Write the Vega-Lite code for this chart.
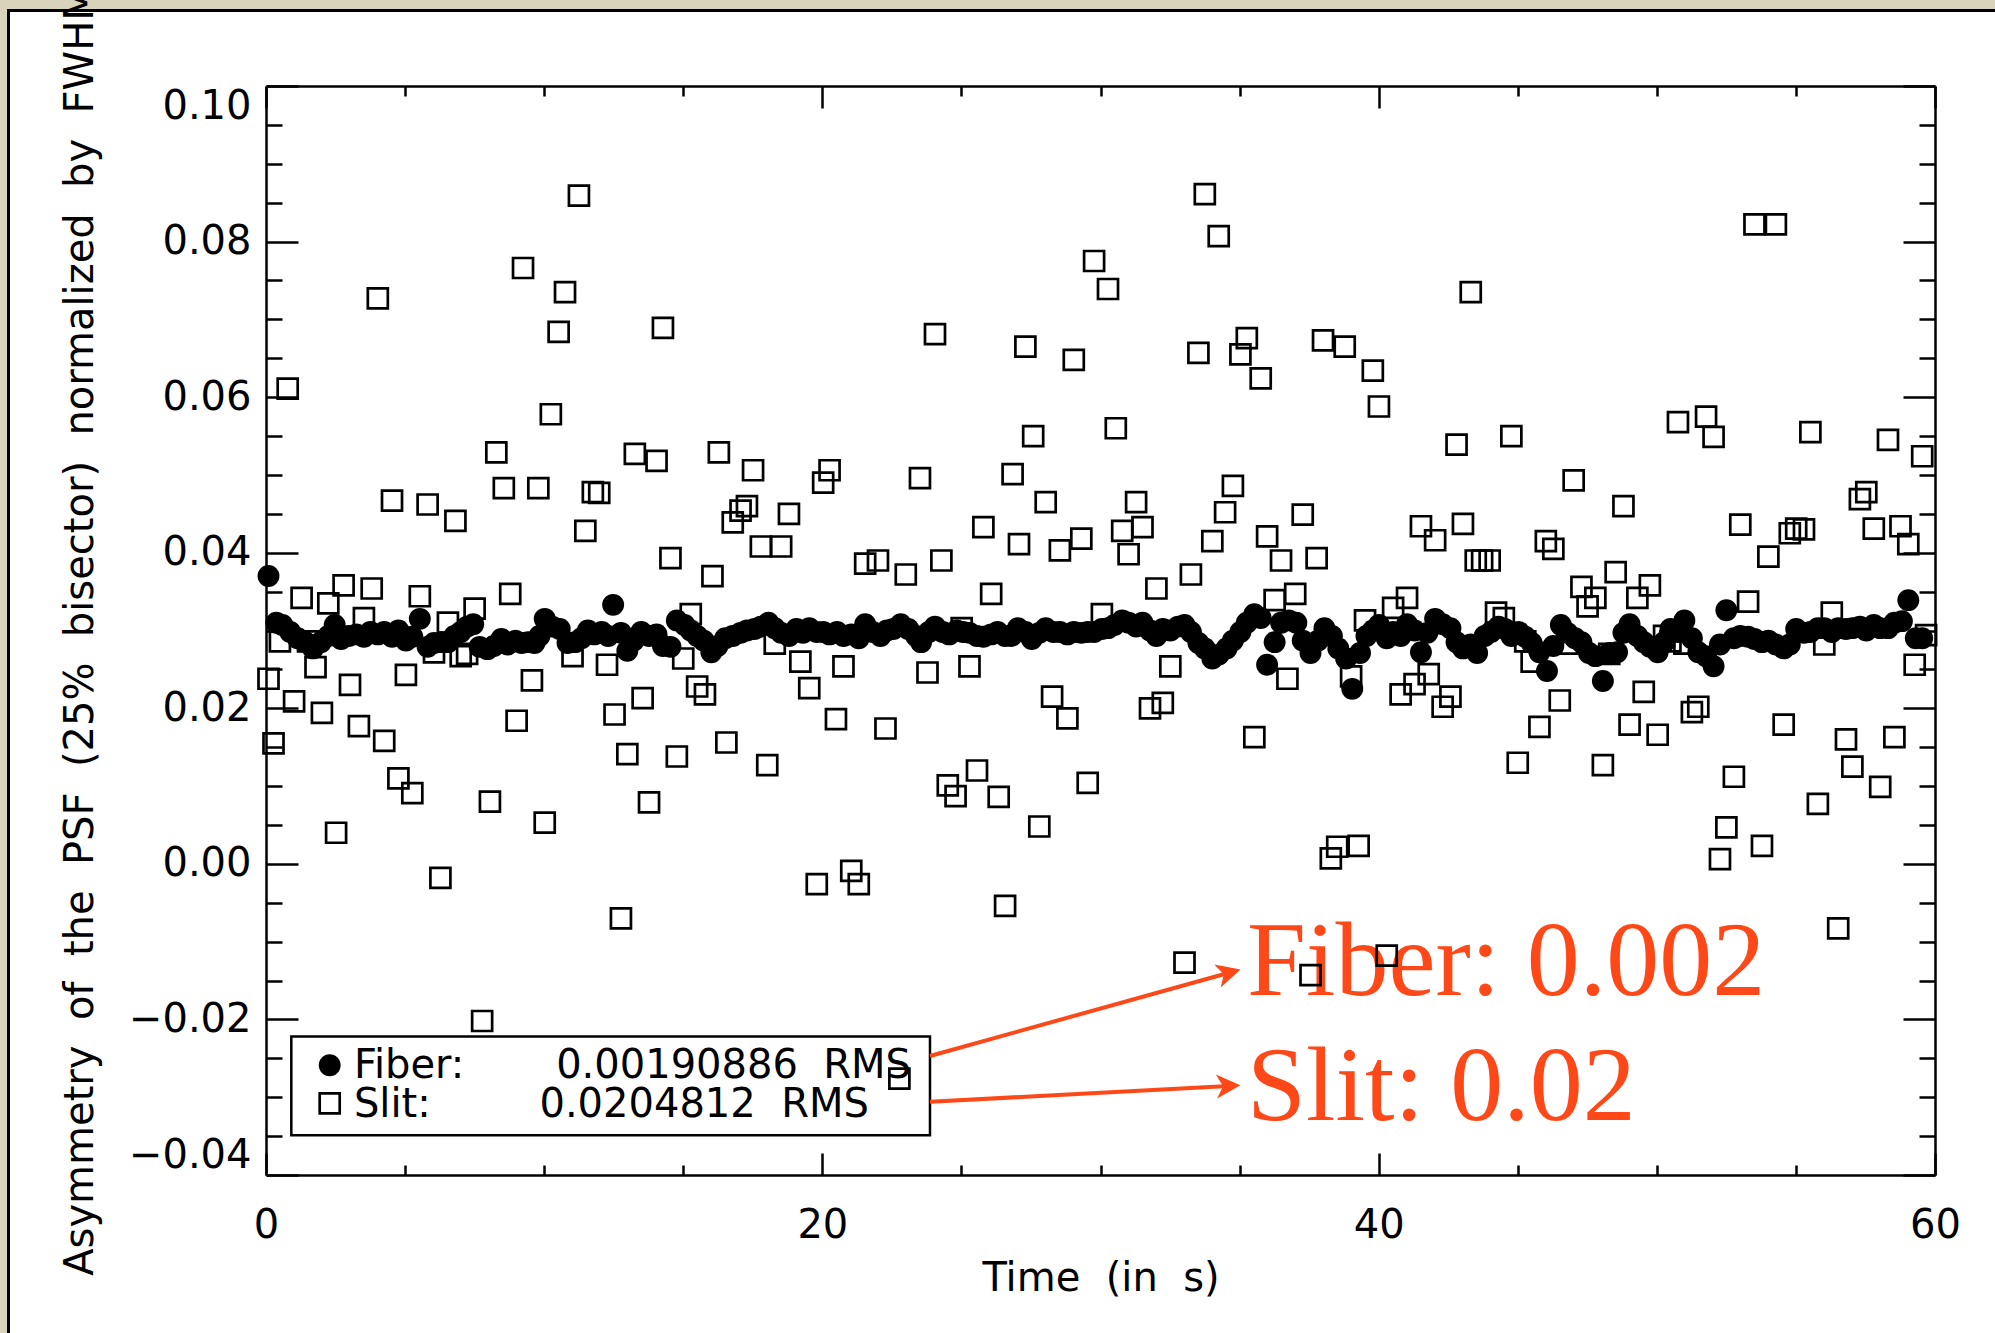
{
"$schema": "https://vega.github.io/schema/vega-lite/v6.json",
"width": 1669, "height": 1089,
"autosize": {"type": "none"},
"padding": {"left": 266, "top": 86, "right": 60, "bottom": 158},
"background": "#d7d4bb",
"config": {"view": {"stroke": null}, "font": "DejaVu Sans"},
"datasets": {
"fiber": [
{"t":0.09,"a":0.0370},{"t":0.37,"a":0.0310},{"t":0.59,"a":0.0307},{"t":0.87,"a":0.0298},{"t":1.14,"a":0.0290},{"t":1.42,"a":0.0285},{"t":1.69,"a":0.0277},{"t":1.97,"a":0.0285},{"t":2.24,"a":0.0293},{"t":2.47,"a":0.0307},{"t":2.70,"a":0.0289},{"t":2.97,"a":0.0293},{"t":3.25,"a":0.0295},{"t":3.52,"a":0.0292},{"t":3.75,"a":0.0298},{"t":4.02,"a":0.0295},{"t":4.25,"a":0.0298},{"t":4.53,"a":0.0292},{"t":4.76,"a":0.0300},{"t":5.03,"a":0.0287},{"t":5.26,"a":0.0292},{"t":5.53,"a":0.0315},{"t":5.81,"a":0.0279},{"t":6.04,"a":0.0284},{"t":6.31,"a":0.0285},{"t":6.54,"a":0.0285},{"t":6.77,"a":0.0293},{"t":7.00,"a":0.0298},{"t":7.23,"a":0.0305},{"t":7.45,"a":0.0308},{"t":7.68,"a":0.0279},{"t":7.96,"a":0.0276},{"t":8.19,"a":0.0280},{"t":8.46,"a":0.0289},{"t":8.69,"a":0.0282},{"t":8.96,"a":0.0287},{"t":9.19,"a":0.0284},{"t":9.42,"a":0.0285},{"t":9.65,"a":0.0284},{"t":9.83,"a":0.0293},{"t":10.02,"a":0.0315},{"t":10.29,"a":0.0305},{"t":10.56,"a":0.0302},{"t":10.84,"a":0.0284},{"t":11.11,"a":0.0285},{"t":11.34,"a":0.0290},{"t":11.57,"a":0.0300},{"t":11.80,"a":0.0295},{"t":12.07,"a":0.0298},{"t":12.30,"a":0.0293},{"t":12.48,"a":0.0333},{"t":12.76,"a":0.0297},{"t":12.99,"a":0.0274},{"t":13.22,"a":0.0287},{"t":13.49,"a":0.0298},{"t":13.77,"a":0.0293},{"t":14.04,"a":0.0295},{"t":14.27,"a":0.0280},{"t":14.54,"a":0.0279},{"t":14.77,"a":0.0313},{"t":15.05,"a":0.0307},{"t":15.27,"a":0.0300},{"t":15.50,"a":0.0293},{"t":15.73,"a":0.0287},{"t":16.01,"a":0.0272},{"t":16.23,"a":0.0280},{"t":16.51,"a":0.0290},{"t":16.78,"a":0.0293},{"t":17.06,"a":0.0297},{"t":17.29,"a":0.0300},{"t":17.56,"a":0.0302},{"t":17.79,"a":0.0305},{"t":18.06,"a":0.0310},{"t":18.29,"a":0.0303},{"t":18.52,"a":0.0297},{"t":18.80,"a":0.0293},{"t":19.07,"a":0.0302},{"t":19.30,"a":0.0297},{"t":19.53,"a":0.0303},{"t":19.80,"a":0.0298},{"t":20.03,"a":0.0298},{"t":20.26,"a":0.0295},{"t":20.53,"a":0.0298},{"t":20.76,"a":0.0293},{"t":21.04,"a":0.0295},{"t":21.31,"a":0.0290},{"t":21.54,"a":0.0308},{"t":21.81,"a":0.0298},{"t":22.09,"a":0.0293},{"t":22.32,"a":0.0300},{"t":22.55,"a":0.0302},{"t":22.82,"a":0.0308},{"t":23.09,"a":0.0302},{"t":23.37,"a":0.0293},{"t":23.55,"a":0.0285},{"t":23.83,"a":0.0298},{"t":24.05,"a":0.0305},{"t":24.33,"a":0.0298},{"t":24.56,"a":0.0295},{"t":24.83,"a":0.0300},{"t":25.06,"a":0.0298},{"t":25.29,"a":0.0297},{"t":25.56,"a":0.0293},{"t":25.79,"a":0.0292},{"t":26.07,"a":0.0295},{"t":26.30,"a":0.0298},{"t":26.57,"a":0.0293},{"t":26.80,"a":0.0293},{"t":27.03,"a":0.0303},{"t":27.30,"a":0.0298},{"t":27.53,"a":0.0289},{"t":27.80,"a":0.0297},{"t":28.03,"a":0.0303},{"t":28.31,"a":0.0298},{"t":28.54,"a":0.0298},{"t":28.81,"a":0.0295},{"t":29.04,"a":0.0298},{"t":29.31,"a":0.0297},{"t":29.54,"a":0.0298},{"t":29.77,"a":0.0298},{"t":30.05,"a":0.0302},{"t":30.27,"a":0.0303},{"t":30.50,"a":0.0307},{"t":30.78,"a":0.0313},{"t":31.01,"a":0.0310},{"t":31.28,"a":0.0305},{"t":31.51,"a":0.0310},{"t":31.78,"a":0.0300},{"t":32.01,"a":0.0293},{"t":32.24,"a":0.0302},{"t":32.51,"a":0.0300},{"t":32.79,"a":0.0305},{"t":33.02,"a":0.0307},{"t":33.25,"a":0.0298},{"t":33.52,"a":0.0284},{"t":33.75,"a":0.0277},{"t":34.02,"a":0.0264},{"t":34.25,"a":0.0269},{"t":34.53,"a":0.0277},{"t":34.76,"a":0.0287},{"t":35.03,"a":0.0298},{"t":35.26,"a":0.0310},{"t":35.53,"a":0.0321},{"t":35.76,"a":0.0316},{"t":35.99,"a":0.0256},{"t":36.26,"a":0.0285},{"t":36.49,"a":0.0310},{"t":36.77,"a":0.0313},{"t":37.04,"a":0.0310},{"t":37.27,"a":0.0287},{"t":37.55,"a":0.0271},{"t":37.82,"a":0.0287},{"t":38.05,"a":0.0303},{"t":38.32,"a":0.0293},{"t":38.55,"a":0.0277},{"t":38.83,"a":0.0264},{"t":39.05,"a":0.0225},{"t":39.33,"a":0.0271},{"t":39.56,"a":0.0293},{"t":39.79,"a":0.0300},{"t":40.01,"a":0.0307},{"t":40.29,"a":0.0290},{"t":40.52,"a":0.0298},{"t":40.79,"a":0.0293},{"t":41.02,"a":0.0308},{"t":41.29,"a":0.0300},{"t":41.52,"a":0.0272},{"t":41.75,"a":0.0297},{"t":42.03,"a":0.0315},{"t":42.30,"a":0.0308},{"t":42.58,"a":0.0303},{"t":42.80,"a":0.0285},{"t":43.03,"a":0.0277},{"t":43.31,"a":0.0282},{"t":43.54,"a":0.0271},{"t":43.81,"a":0.0293},{"t":44.04,"a":0.0298},{"t":44.31,"a":0.0305},{"t":44.54,"a":0.0302},{"t":44.77,"a":0.0293},{"t":45.04,"a":0.0298},{"t":45.27,"a":0.0292},{"t":45.50,"a":0.0284},{"t":45.78,"a":0.0272},{"t":46.05,"a":0.0248},{"t":46.28,"a":0.0280},{"t":46.55,"a":0.0307},{"t":46.78,"a":0.0297},{"t":47.06,"a":0.0290},{"t":47.29,"a":0.0285},{"t":47.56,"a":0.0271},{"t":47.79,"a":0.0267},{"t":48.06,"a":0.0235},{"t":48.29,"a":0.0271},{"t":48.57,"a":0.0272},{"t":48.80,"a":0.0297},{"t":49.02,"a":0.0308},{"t":49.30,"a":0.0293},{"t":49.53,"a":0.0285},{"t":49.75,"a":0.0279},{"t":50.03,"a":0.0272},{"t":50.26,"a":0.0285},{"t":50.49,"a":0.0302},{"t":50.76,"a":0.0298},{"t":50.99,"a":0.0313},{"t":51.26,"a":0.0290},{"t":51.49,"a":0.0272},{"t":51.77,"a":0.0267},{"t":52.04,"a":0.0254},{"t":52.27,"a":0.0282},{"t":52.50,"a":0.0326},{"t":52.77,"a":0.0290},{"t":53.00,"a":0.0293},{"t":53.28,"a":0.0292},{"t":53.51,"a":0.0289},{"t":53.78,"a":0.0285},{"t":54.01,"a":0.0287},{"t":54.28,"a":0.0282},{"t":54.56,"a":0.0277},{"t":54.78,"a":0.0282},{"t":55.01,"a":0.0302},{"t":55.29,"a":0.0297},{"t":55.52,"a":0.0298},{"t":55.79,"a":0.0303},{"t":56.02,"a":0.0303},{"t":56.29,"a":0.0298},{"t":56.52,"a":0.0303},{"t":56.80,"a":0.0302},{"t":57.03,"a":0.0303},{"t":57.30,"a":0.0305},{"t":57.53,"a":0.0300},{"t":57.80,"a":0.0307},{"t":58.03,"a":0.0303},{"t":58.31,"a":0.0303},{"t":58.54,"a":0.0310},{"t":58.81,"a":0.0312},{"t":59.04,"a":0.0339},{"t":59.31,"a":0.0290},{"t":59.54,"a":0.0290}
],
"slit": [
{"t":0.09,"a":0.0238},{"t":0.27,"a":0.0155},{"t":0.50,"a":0.0286},{"t":0.78,"a":0.0611},{"t":1.01,"a":0.0209},{"t":1.28,"a":0.0342},{"t":1.51,"a":0.0286},{"t":1.78,"a":0.0253},{"t":2.01,"a":0.0194},{"t":2.24,"a":0.0335},{"t":2.52,"a":0.0040},{"t":2.79,"a":0.0358},{"t":3.02,"a":0.0230},{"t":3.34,"a":0.0177},{"t":3.52,"a":0.0316},{"t":3.80,"a":0.0354},{"t":4.02,"a":0.0727},{"t":4.25,"a":0.0158},{"t":4.53,"a":0.0467},{"t":4.76,"a":0.0110},{"t":5.03,"a":0.0243},{"t":5.26,"a":0.0091},{"t":5.53,"a":0.0344},{"t":5.81,"a":0.0462},{"t":6.04,"a":0.0272},{"t":6.27,"a":-0.0018},{"t":6.54,"a":0.0310},{"t":6.81,"a":0.0441},{"t":7.00,"a":0.0267},{"t":7.23,"a":0.0270},{"t":7.50,"a":0.0328},{"t":7.77,"a":-0.0202},{"t":8.05,"a":0.0080},{"t":8.28,"a":0.0529},{"t":8.55,"a":0.0483},{"t":8.78,"a":0.0347},{"t":9.01,"a":0.0184},{"t":9.24,"a":0.0766},{"t":9.56,"a":0.0236},{"t":9.79,"a":0.0483},{"t":10.02,"a":0.0053},{"t":10.24,"a":0.0578},{"t":10.52,"a":0.0684},{"t":10.75,"a":0.0735},{"t":11.02,"a":0.0267},{"t":11.25,"a":0.0859},{"t":11.48,"a":0.0428},{"t":11.75,"a":0.0478},{"t":11.98,"a":0.0477},{"t":12.26,"a":0.0256},{"t":12.53,"a":0.0192},{"t":12.76,"a":-0.0070},{"t":12.99,"a":0.0141},{"t":13.26,"a":0.0527},{"t":13.54,"a":0.0213},{"t":13.77,"a":0.0079},{"t":14.04,"a":0.0518},{"t":14.27,"a":0.0689},{"t":14.54,"a":0.0393},{"t":14.77,"a":0.0138},{"t":15.00,"a":0.0264},{"t":15.27,"a":0.0321},{"t":15.50,"a":0.0228},{"t":15.78,"a":0.0218},{"t":16.05,"a":0.0370},{"t":16.28,"a":0.0529},{"t":16.55,"a":0.0156},{"t":16.78,"a":0.0439},{"t":17.06,"a":0.0454},{"t":17.29,"a":0.0460},{"t":17.51,"a":0.0506},{"t":17.79,"a":0.0408},{"t":18.02,"a":0.0127},{"t":18.29,"a":0.0283},{"t":18.52,"a":0.0408},{"t":18.80,"a":0.0450},{"t":19.21,"a":0.0260},{"t":19.53,"a":0.0226},{"t":19.80,"a":-0.0026},{"t":20.03,"a":0.0490},{"t":20.26,"a":0.0506},{"t":20.49,"a":0.0186},{"t":20.76,"a":0.0254},{"t":21.04,"a":-0.0009},{"t":21.31,"a":-0.0026},{"t":21.54,"a":0.0386},{"t":22.00,"a":0.0390},{"t":22.27,"a":0.0174},{"t":22.77,"a":-0.0276},{"t":23.00,"a":0.0372},{"t":23.51,"a":0.0496},{"t":23.78,"a":0.0246},{"t":24.05,"a":0.0681},{"t":24.28,"a":0.0390},{"t":24.51,"a":0.0101},{"t":24.79,"a":0.0087},{"t":25.01,"a":0.0303},{"t":25.29,"a":0.0254},{"t":25.56,"a":0.0120},{"t":25.79,"a":0.0433},{"t":26.07,"a":0.0347},{"t":26.34,"a":0.0086},{"t":26.57,"a":-0.0054},{"t":26.84,"a":0.0501},{"t":27.07,"a":0.0411},{"t":27.30,"a":0.0665},{"t":27.58,"a":0.0550},{"t":27.80,"a":0.0048},{"t":28.03,"a":0.0465},{"t":28.26,"a":0.0215},{"t":28.54,"a":0.0403},{"t":28.81,"a":0.0187},{"t":29.04,"a":0.0648},{"t":29.31,"a":0.0418},{"t":29.54,"a":0.0104},{"t":29.77,"a":0.0775},{"t":30.05,"a":0.0321},{"t":30.27,"a":0.0739},{"t":30.55,"a":0.0560},{"t":30.78,"a":0.0428},{"t":31.01,"a":0.0398},{"t":31.28,"a":0.0465},{"t":31.51,"a":0.0433},{"t":31.78,"a":0.0200},{"t":32.01,"a":0.0354},{"t":32.24,"a":0.0207},{"t":32.51,"a":0.0254},{"t":33.02,"a":-0.0127},{"t":33.25,"a":0.0372},{"t":33.52,"a":0.0657},{"t":33.75,"a":0.0861},{"t":34.02,"a":0.0415},{"t":34.25,"a":0.0807},{"t":34.48,"a":0.0452},{"t":34.76,"a":0.0486},{"t":35.03,"a":0.0655},{"t":35.26,"a":0.0676},{"t":35.53,"a":0.0163},{"t":35.76,"a":0.0624},{"t":35.99,"a":0.0421},{"t":36.26,"a":0.0339},{"t":36.49,"a":0.0390},{"t":36.72,"a":0.0238},{"t":37.00,"a":0.0347},{"t":37.27,"a":0.0449},{"t":37.55,"a":-0.0143},{"t":37.77,"a":0.0393},{"t":38.00,"a":0.0673},{"t":38.28,"a":0.0007},{"t":38.51,"a":0.0022},{"t":38.78,"a":0.0665},{"t":39.01,"a":0.0241},{"t":39.28,"a":0.0023},{"t":39.51,"a":0.0313},{"t":39.79,"a":0.0634},{"t":40.01,"a":0.0588},{"t":40.29,"a":-0.0118},{"t":40.52,"a":0.0329},{"t":40.79,"a":0.0218},{"t":41.02,"a":0.0342},{"t":41.29,"a":0.0231},{"t":41.52,"a":0.0434},{"t":41.80,"a":0.0244},{"t":42.03,"a":0.0416},{"t":42.30,"a":0.0202},{"t":42.58,"a":0.0215},{"t":42.80,"a":0.0539},{"t":43.03,"a":0.0437},{"t":43.31,"a":0.0735},{"t":43.49,"a":0.0390},{"t":43.72,"a":0.0390},{"t":43.99,"a":0.0390},{"t":44.22,"a":0.0323},{"t":44.50,"a":0.0316},{"t":44.77,"a":0.0550},{"t":45.00,"a":0.0130},{"t":45.27,"a":0.0286},{"t":45.50,"a":0.0260},{"t":45.78,"a":0.0176},{"t":46.01,"a":0.0415},{"t":46.28,"a":0.0405},{"t":46.51,"a":0.0210},{"t":46.78,"a":0.0283},{"t":47.01,"a":0.0493},{"t":47.29,"a":0.0356},{"t":47.51,"a":0.0331},{"t":47.79,"a":0.0342},{"t":48.06,"a":0.0127},{"t":48.29,"a":0.0270},{"t":48.52,"a":0.0375},{"t":48.80,"a":0.0460},{"t":49.02,"a":0.0179},{"t":49.30,"a":0.0342},{"t":49.53,"a":0.0221},{"t":49.75,"a":0.0358},{"t":50.03,"a":0.0166},{"t":50.26,"a":0.0293},{"t":50.49,"a":0.0286},{"t":50.76,"a":0.0568},{"t":50.99,"a":0.0283},{"t":51.26,"a":0.0195},{"t":51.49,"a":0.0202},{"t":51.77,"a":0.0575},{"t":52.04,"a":0.0549},{"t":52.27,"a":0.0006},{"t":52.50,"a":0.0047},{"t":52.77,"a":0.0112},{"t":53.00,"a":0.0436},{"t":53.28,"a":0.0337},{"t":53.51,"a":0.0822},{"t":53.78,"a":0.0023},{"t":54.01,"a":0.0395},{"t":54.28,"a":0.0822},{"t":54.56,"a":0.0179},{"t":54.78,"a":0.0425},{"t":55.01,"a":0.0431},{"t":55.29,"a":0.0430},{"t":55.52,"a":0.0555},{"t":55.79,"a":0.0077},{"t":56.02,"a":0.0282},{"t":56.29,"a":0.0323},{"t":56.52,"a":-0.0083},{"t":56.80,"a":0.0160},{"t":57.03,"a":0.0125},{"t":57.30,"a":0.0469},{"t":57.53,"a":0.0478},{"t":57.80,"a":0.0431},{"t":58.03,"a":0.0099},{"t":58.31,"a":0.0545},{"t":58.54,"a":0.0163},{"t":58.76,"a":0.0434},{"t":59.04,"a":0.0411},{"t":59.27,"a":0.0256},{"t":59.54,"a":0.0524},{"t":59.68,"a":0.0294}
]
},
"layer": [
{
"data": {"values": [{}]},
"mark": {"type": "rect", "fill": "white", "stroke": "black", "strokeWidth": 3},
"encoding": {
"x": {"datum": -9.257, "type": "quantitative", "axis": null},
"x2": {"datum": 70},
"y": {"datum": 0.1097, "type": "quantitative", "axis": null},
"y2": {"datum": -0.08}
}
},
{
"data": {"values": [{}]},
"mark": {"type": "rect", "fill": null, "stroke": "black", "strokeWidth": 2.5},
"encoding": {
"x": {"datum": 0.91, "type": "quantitative", "axis": null},
"x2": {"datum": 23.87},
"y": {"datum": -0.0222, "type": "quantitative", "axis": null},
"y2": {"datum": -0.0349}
}
},
{
"data": {"values": [{}]},
"mark": {"type": "text", "text": "Fiber:", "align": "left", "baseline": "alphabetic", "font": "DejaVu Sans", "fontSize": 40, "color": "black"},
"encoding": {"x": {"datum": 3.16, "type": "quantitative", "axis": null}, "y": {"datum": -0.02757, "type": "quantitative", "axis": null}}
},
{
"data": {"values": [{}]},
"mark": {"type": "text", "text": "Slit:", "align": "left", "baseline": "alphabetic", "font": "DejaVu Sans", "fontSize": 40, "color": "black"},
"encoding": {"x": {"datum": 3.16, "type": "quantitative", "axis": null}, "y": {"datum": -0.03248, "type": "quantitative", "axis": null}}
},
{
"data": {"values": [{}]},
"mark": {"type": "text", "text": "0.00190886 \u00a0RMS", "align": "left", "baseline": "alphabetic", "font": "DejaVu Sans", "fontSize": 40, "color": "black"},
"encoding": {"x": {"datum": 10.43, "type": "quantitative", "axis": null}, "y": {"datum": -0.02757, "type": "quantitative", "axis": null}}
},
{
"data": {"values": [{}]},
"mark": {"type": "text", "text": "0.0204812 \u00a0RMS", "align": "left", "baseline": "alphabetic", "font": "DejaVu Sans", "fontSize": 40, "color": "black"},
"encoding": {"x": {"datum": 9.83, "type": "quantitative", "axis": null}, "y": {"datum": -0.03248, "type": "quantitative", "axis": null}}
},
{
"data": {"values": [{}]},
"mark": {"type": "rule", "color": "#ff4818", "strokeWidth": 4},
"encoding": {
"x": {"datum": 23.87, "type": "quantitative", "axis": null}, "y": {"datum": -0.0247, "type": "quantitative", "axis": null},
"x2": {"datum": 34.62}, "y2": {"datum": -0.0140}
}
},
{
"data": {"values": [{}]},
"mark": {"type": "rule", "color": "#ff4818", "strokeWidth": 4},
"encoding": {
"x": {"datum": 23.87, "type": "quantitative", "axis": null}, "y": {"datum": -0.03059, "type": "quantitative", "axis": null},
"x2": {"datum": 34.60}, "y2": {"datum": -0.02855}
}
},
{
"data": {"values": [{}]},
"mark": {"type": "point", "shape": "M 1 0 L -1 -1 L -0.45 0 L -1 1 Z", "filled": true, "color": "#ff4818", "opacity": 1, "size": 576, "angle": 344.4},
"encoding": {"x": {"datum": 34.62, "type": "quantitative", "axis": null}, "y": {"datum": -0.0140, "type": "quantitative", "axis": null}}
},
{
"data": {"values": [{}]},
"mark": {"type": "point", "shape": "M 1 0 L -1 -1 L -0.45 0 L -1 1 Z", "filled": true, "color": "#ff4818", "opacity": 1, "size": 576, "angle": 357},
"encoding": {"x": {"datum": 34.60, "type": "quantitative", "axis": null}, "y": {"datum": -0.02855, "type": "quantitative", "axis": null}}
},
{
"data": {"values": [{}]},
"mark": {"type": "text", "text": "Fiber: 0.002", "align": "left", "baseline": "alphabetic", "font": "Liberation Serif", "fontSize": 106, "color": "#ff4818"},
"encoding": {"x": {"datum": 35.27, "type": "quantitative", "axis": null}, "y": {"datum": -0.01686, "type": "quantitative", "axis": null}}
},
{
"data": {"values": [{}]},
"mark": {"type": "text", "text": "Slit: 0.02", "align": "left", "baseline": "alphabetic", "font": "Liberation Serif", "fontSize": 106, "color": "#ff4818"},
"encoding": {"x": {"datum": 35.27, "type": "quantitative", "axis": null}, "y": {"datum": -0.03288, "type": "quantitative", "axis": null}}
},
{
"data": {"name": "fiber"},
"mark": {"type": "point", "shape": "circle", "filled": true, "color": "black", "opacity": 1, "size": 480},
"encoding": {
"x": {"field": "t", "type": "quantitative", "scale": {"domain": [0, 60], "nice": false, "zero": false},
 "axis": {"orient": "top", "values": [0,5,10,15,20,25,30,35,40,45,50,55,60], "labels": false, "title": null, "grid": false,
  "tickSize": {"condition": {"test": "datum.value % 20 == 0", "value": -22}, "value": -10},
  "tickColor": "black", "tickWidth": 2.5, "domainColor": "black", "domainWidth": 2.5, "zindex": 1}},
"y": {"field": "a", "type": "quantitative", "scale": {"domain": [-0.04, 0.10], "nice": false, "zero": false},
 "axis": {"orient": "right", "values": [-0.04,-0.035,-0.03,-0.025,-0.02,-0.015,-0.01,-0.005,0,0.005,0.01,0.015,0.02,0.025,0.03,0.035,0.04,0.045,0.05,0.055,0.06,0.065,0.07,0.075,0.08,0.085,0.09,0.095,0.1], "labels": false, "title": null, "grid": false,
  "tickSize": {"condition": {"test": "abs(round(datum.value*1000)) % 20 == 0", "value": -32}, "value": -16},
  "tickColor": "black", "tickWidth": 2.5, "domainColor": "black", "domainWidth": 2.5, "zindex": 1}}
}
},
{
"data": {"name": "slit"},
"mark": {"type": "point", "shape": "square", "filled": false, "stroke": "black", "strokeWidth": 2.7, "opacity": 1, "size": 400},
"encoding": {
"x": {"field": "t", "type": "quantitative", "scale": {"domain": [0, 60], "nice": false, "zero": false},
 "axis": {"orient": "bottom", "values": [0,5,10,15,20,25,30,35,40,45,50,55,60], "format": "d",
  "labelExpr": "datum.value % 20 == 0 ? datum.label : ''", "grid": false,
  "tickSize": {"condition": {"test": "datum.value % 20 == 0", "value": -22}, "value": -10},
  "tickColor": "black", "tickWidth": 2.5, "domainColor": "black", "domainWidth": 2.5,
  "labelFont": "DejaVu Sans", "labelFontSize": 40, "labelColor": "black", "labelPadding": 52, "labelFlush": false, "labelOverlap": false,
  "title": "Time \u00a0(in \u00a0s)", "titleFont": "DejaVu Sans", "titleFontSize": 40, "titleFontWeight": "normal", "titleColor": "black", "titlePadding": 1, "zindex": 1}},
"y": {"field": "a", "type": "quantitative", "scale": {"domain": [-0.04, 0.10], "nice": false, "zero": false},
 "axis": {"orient": "left", "values": [-0.04,-0.035,-0.03,-0.025,-0.02,-0.015,-0.01,-0.005,0,0.005,0.01,0.015,0.02,0.025,0.03,0.035,0.04,0.045,0.05,0.055,0.06,0.065,0.07,0.075,0.08,0.085,0.09,0.095,0.1], "format": ".2f",
  "labelExpr": "abs(round(datum.value*1000)) % 20 == 0 ? datum.label : ''", "grid": false,
  "tickSize": {"condition": {"test": "abs(round(datum.value*1000)) % 20 == 0", "value": -32}, "value": -16},
  "tickColor": "black", "tickWidth": 2.5, "domainColor": "black", "domainWidth": 2.5,
  "labelFont": "DejaVu Sans", "labelFontSize": 40, "labelColor": "black", "labelPadding": 47, "labelFlush": true, "labelOverlap": false,
  "title": "Asymmetry \u00a0of \u00a0the \u00a0PSF \u00a0(25% \u00a0bisector) \u00a0normalized \u00a0by \u00a0FWHM", "titleFont": "DejaVu Sans", "titleFontSize": 40, "titleFontWeight": "normal", "titleColor": "black", "titlePadding": 28, "zindex": 1}}
}
},
{
"data": {"values": [{}]},
"mark": {"type": "point", "shape": "circle", "filled": true, "color": "black", "opacity": 1, "size": 480},
"encoding": {"x": {"datum": 2.29, "type": "quantitative", "axis": null}, "y": {"datum": -0.0259, "type": "quantitative", "axis": null}}
},
{
"data": {"values": [{}]},
"mark": {"type": "point", "shape": "square", "filled": false, "stroke": "black", "strokeWidth": 2.7, "opacity": 1, "size": 400},
"encoding": {"x": {"datum": 2.29, "type": "quantitative", "axis": null}, "y": {"datum": -0.0308, "type": "quantitative", "axis": null}}
}
],
"resolve": {"axis": {"x": "independent", "y": "independent"}}
}
